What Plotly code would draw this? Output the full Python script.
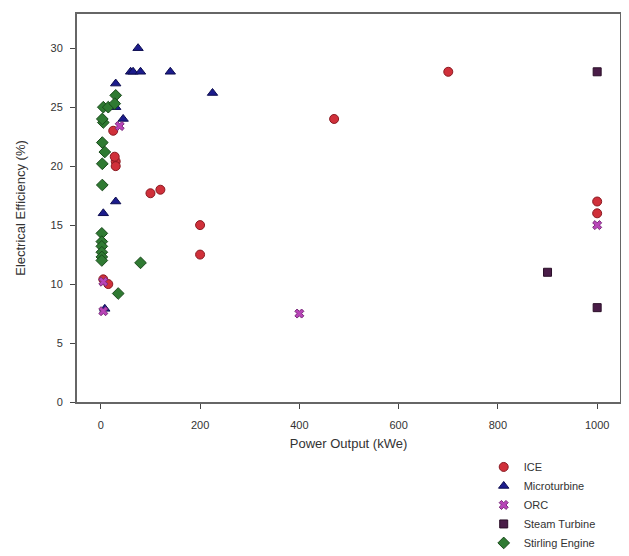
import plotly.graph_objects as go

ice_x = [700, 470, 1000, 1000, 200, 200, 100, 120, 30, 30, 28, 25, 5, 15]
ice_y = [28, 24, 17, 16, 15, 12.5, 17.7, 18, 20.4, 20, 20.8, 23, 10.4, 10]

micro_x = [75, 60, 65, 80, 140, 225, 30, 30, 45, 30, 5, 8]
micro_y = [30, 28, 28, 28, 28, 26.2, 27, 25, 24, 17, 16, 7.9]

orc_x = [400, 1000, 5, 38, 5]
orc_y = [7.5, 15, 7.7, 23.4, 10.2]

steam_x = [1000, 900, 1000]
steam_y = [28, 11, 8]

stirling_x = [5, 15, 30, 5, 3, 3, 8, 3, 3, 2, 2, 2, 2, 2, 2, 80, 35, 28]
stirling_y = [25, 25, 26, 23.7, 24, 22, 21.2, 20.2, 18.4, 14.3, 13.6, 13.2, 12.7, 12.3, 12, 11.8, 9.2, 25.3]

series = [
    ("ICE", ice_x, ice_y, "circle", "#d0303a", "#8a1a22", 9),
    ("Microturbine", micro_x, micro_y, "triangle-up", "#1c1c8c", "#0e0e50", 9),
    ("ORC", orc_x, orc_y, "x", "#b844b8", "#7a2a7a", 8),
    ("Steam Turbine", steam_x, steam_y, "square", "#4a1d48", "#2a0f28", 8),
    ("Stirling Engine", stirling_x, stirling_y, "diamond", "#2f7a32", "#1a4a1c", 9),
]

fig = go.Figure()
for name, xs, ys, sym, col, edge, sz in series:
    fig.add_trace(go.Scatter(
        x=xs, y=ys, mode="markers", name=name,
        marker=dict(symbol=sym, color=col, size=sz, line=dict(color=edge, width=1)),
    ))

axis_common = dict(
    showline=True, linecolor="#666666", linewidth=2, mirror=True,
    ticks="outside", ticklen=5, tickcolor="#444444", tickwidth=1,
    showgrid=False, zeroline=False, automargin=False,
    tickfont=dict(family="Liberation Sans, Arial", size=11, color="#333333"),
    title_font=dict(family="Liberation Sans, Arial", size=13, color="#333333"),
)

fig.update_layout(
    width=629, height=556,
    paper_bgcolor="white", plot_bgcolor="white",
    margin=dict(l=69, r=17, t=6, b=158),
    font=dict(family="Liberation Sans, Arial", size=11, color="#333333"),
    xaxis=dict(range=[-48, 1046], tickvals=[0, 200, 400, 600, 800, 1000],
               ticklabelstandoff=7,
               title=dict(text="Power Output (kWe)", standoff=9), **axis_common),
    yaxis=dict(range=[0, 32.9], tickvals=[0, 5, 10, 15, 20, 25, 30],
               ticklabelstandoff=5,
               title=dict(text="Electrical Efficiency (%)", standoff=22), **axis_common),
    legend=dict(x=0.749, y=-0.13, xanchor="left", yanchor="top",
                bgcolor="rgba(0,0,0,0)", font=dict(size=11, color="#333333"),
                tracegroupgap=0, itemsizing="trace"),
    showlegend=True,
)

fig.write_html("out.html")
